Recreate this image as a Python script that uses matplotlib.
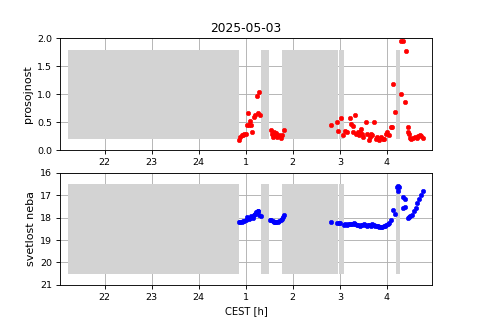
import numpy as np
import matplotlib
matplotlib.use("Agg")
import matplotlib.pyplot as plt

# časovna os: ure CEST, po polnoči nadaljujemo 25, 26, ...
tick_pos = [22, 23, 24, 25, 26, 27, 28]
tick_lab = ["22", "23", "24", "1", "2", "3", "4"]

# sivi pasovi (oblaki / luna)
span_start = [21.22, 25.33, 25.76, 26.98, 28.19]
span_end = [24.86, 25.50, 26.96, 27.09, 28.27]

# prosojnost
t_pro = [24.86, 24.88, 24.91, 24.94, 24.97, 25.00, 25.02, 25.04, 25.06, 25.09,
         25.12, 25.14, 25.17, 25.20, 25.23, 25.28, 25.26, 25.31,
         25.53, 25.55, 25.58, 25.60, 25.62, 25.65, 25.67, 25.70, 25.74, 25.77, 25.82,
         26.82, 26.95, 26.97, 27.02, 27.06, 27.11, 27.15, 27.21, 27.24, 27.27,
         27.29, 27.33, 27.34, 27.38, 27.41, 27.43, 27.46, 27.48, 27.50, 27.55,
         27.58, 27.61, 27.64, 27.66, 27.69, 27.73, 27.77, 27.80, 27.84, 27.87,
         27.91, 27.94, 27.98, 28.01, 28.05, 28.08, 28.12, 28.14, 28.17, 28.30,
         28.34, 28.31, 28.38, 28.40, 28.44, 28.45, 28.47, 28.49, 28.52, 28.56,
         28.60, 28.64, 28.67, 28.71, 28.73, 28.77]
prosojnost = [0.19, 0.24, 0.27, 0.28, 0.29, 0.30, 0.45, 0.67, 0.45, 0.53,
              0.45, 0.32, 0.60, 0.64, 0.97, 1.05, 0.66, 0.63,
              0.37, 0.30, 0.24, 0.33, 0.27, 0.31, 0.24, 0.27, 0.23, 0.28, 0.37,
              0.45, 0.50, 0.35, 0.585, 0.28, 0.34, 0.33, 0.585, 0.48, 0.44,
              0.33, 0.64, 0.30, 0.33, 0.27, 0.33, 0.39, 0.30, 0.24, 0.51,
              0.30, 0.19, 0.24, 0.30, 0.27, 0.51, 0.21, 0.24, 0.19, 0.24,
              0.21, 0.21, 0.30, 0.33, 0.27, 0.42, 0.41, 1.18, 0.69, 1.95,
              1.95, 1.00, 0.86, 1.77, 0.33, 0.41, 0.30, 0.23, 0.20, 0.23,
              0.24, 0.23, 0.25, 0.28, 0.25, 0.23]

# svetlost neba (mag/arcsec^2)
t_sqm = [24.85, 24.88, 24.91, 24.94, 24.97, 25.00, 25.03, 25.06, 25.08, 25.12,
         25.15, 25.17, 25.20, 25.22, 25.25, 25.27, 25.29, 25.32,
         25.51, 25.54, 25.57, 25.60, 25.62, 25.65, 25.68, 25.71, 25.74, 25.77, 25.79, 25.82,
         26.81, 26.95, 26.98, 27.01,
         27.09, 27.12, 27.15, 27.18, 27.21, 27.24, 27.27, 27.30, 27.33, 27.36,
         27.39, 27.42, 27.45, 27.48, 27.51, 27.54, 27.57, 27.60, 27.63, 27.66,
         27.69, 27.72, 27.75, 27.78, 27.81, 27.84, 27.87, 27.90, 27.93, 27.96,
         27.99, 28.02, 28.05, 28.08,
         28.14, 28.17, 28.22, 28.24, 28.26, 28.23, 28.34, 28.39, 28.34, 28.39,
         28.44, 28.47, 28.50, 28.54, 28.58, 28.61, 28.65, 28.69, 28.72, 28.76]
svetlost = [18.19, 18.19, 18.18, 18.17, 18.15, 18.12, 17.98, 18.05, 18.04, 17.94,
            18.00, 17.90, 17.85, 17.75, 17.72, 17.69, 17.87, 17.92,
            18.12, 18.12, 18.15, 18.18, 18.20, 18.20, 18.18, 18.16, 18.12, 18.05, 17.98, 17.90,
            18.21, 18.22, 18.22, 18.24,
            18.32, 18.30, 18.31, 18.28, 18.27, 18.29, 18.30, 18.26, 18.30, 18.33,
            18.32, 18.36, 18.33, 18.31, 18.27, 18.35, 18.37, 18.33, 18.34, 18.36,
            18.30, 18.34, 18.36, 18.38, 18.37, 18.40, 18.43, 18.40, 18.38, 18.36,
            18.33, 18.28, 18.22, 18.12,
            17.64, 17.82, 16.63, 16.60, 16.62, 16.80, 17.10, 17.16, 17.57, 17.54,
            18.01, 17.97, 17.93, 17.87, 17.72, 17.57, 17.34, 17.16, 16.97, 16.82]

fig, (ax1, ax2) = plt.subplots(2, 1, figsize=(6, 4), dpi=80)

w = np.array(span_end) - np.array(span_start)

ax1.set_title("2025-05-03", fontsize=11)
ax1.bar(span_start, 1.6, width=w, bottom=0.2, align="edge", color="lightgray", zorder=2)
ax1.plot(t_pro, prosojnost, "o", color="red", ms=4, mew=0.5, zorder=3)
ax1.set_ylim(0, 2)
ax1.set_ylabel("prosojnost")

ax2.bar(span_start, 4.0, width=w, bottom=16.5, align="edge", color="lightgray", zorder=2)
ax2.plot(t_sqm, svetlost, "o", color="blue", ms=4, mew=0.5, zorder=3)
ax2.set_ylim(21, 16)
ax2.set_ylabel("svetlost neba")
ax2.set_xlabel("CEST [h]", fontsize=9)

for ax in (ax1, ax2):
    ax.set_xlim(21.05, 28.96)
    ax.set_xticks(tick_pos)
    ax.set_xticklabels(tick_lab)
    ax.tick_params(labelsize=8.5)
    ax.grid(True)

plt.savefig("out.png", dpi=80)
